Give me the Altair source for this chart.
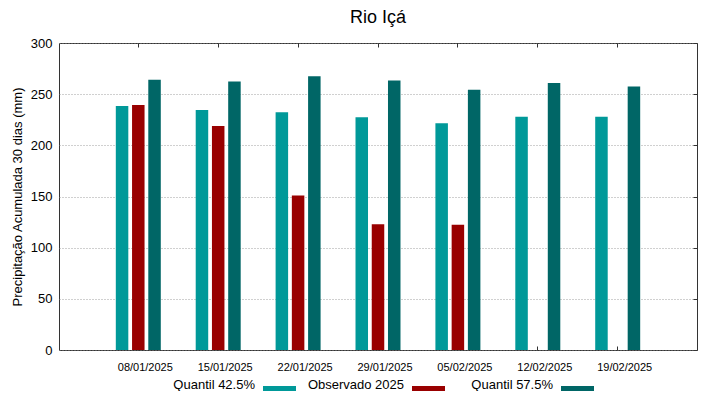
import altair as alt
import pandas as pd

dates = ["08/01/2025", "15/01/2025", "22/01/2025", "29/01/2025",
         "05/02/2025", "12/02/2025", "19/02/2025"]
series = ["Quantil 42.5%", "Observado 2025", "Quantil 57.5%"]
colors = ["#009999", "#990000", "#006666"]
q425 = [238.5, 234.6, 232.4, 227.4, 221.6, 228.0, 228.0]
obs = [239.5, 218.9, 151.0, 122.8, 122.5, None, None]
q575 = [264.0, 262.4, 267.6, 263.3, 254.2, 261.0, 257.5]

rows = []
for name, vals in zip(series, [q425, obs, q575]):
    for d, v in zip(dates, vals):
        if v is not None:
            rows.append({"date": d, "series": name, "value": v})
df = pd.DataFrame(rows)

FONT = "Liberation Sans"

xscale = alt.Scale(domain=dates, paddingInner=0.437, paddingOuter=0.711)
oscale = alt.Scale(domain=series, paddingInner=0.23, paddingOuter=0)
yscale = alt.Scale(domain=[0, 300], nice=False)

bars = alt.Chart(df).mark_bar(stroke=None).encode(
    x=alt.X("date:N", sort=dates, scale=xscale, title=None,
            axis=alt.Axis(orient="bottom", offset=-4, domain=False, tickSize=4,
                          tickColor="#333", labelAngle=0, labelFontSize=11,
                          labelPadding=11, labelOffset=7, labelColor="#000",
                          labelFont=FONT)),
    xOffset=alt.XOffset("series:N", sort=series, scale=oscale),
    y=alt.Y("value:Q", scale=yscale,
            title="Precipitação Acumulada 30 dias (mm)",
            axis=alt.Axis(orient="left", values=[0, 50, 100, 150, 200, 250, 300],
                          domain=False, ticks=False, labelPadding=7,
                          labelFontSize=13, labelColor="#000", labelFont=FONT,
                          grid=True, gridDash=[1, 2], gridColor="#888",
                          gridWidth=0.8, titleFontSize=13, titleFont=FONT,
                          titleFontWeight="normal", titleColor="#000",
                          titlePadding=6)),
    color=alt.Color("series:N", sort=series,
                    scale=alt.Scale(domain=series, range=colors),
                    legend=alt.Legend(
                        title=None, orient="none", direction="horizontal",
                        legendX=204, legendY=36 + 307 - 14,
                        columns=3, gridAlign="all", columnPadding=11,
                        symbolType="M-1,-0.16H1V0.16H-1Z", symbolSize=1089,
                        symbolStrokeWidth=0, labelAlign="right",
                        labelBaseline="alphabetic",
                        labelOffset={"expr": "-41"}, labelFontSize=13, labelFont=FONT,
                        labelColor="#000", labelLimit=200,
                        labelExpr="datum.label == 'Observado 2025' ? datum.label : '\u00a0\u00a0\u00a0\u00a0' + datum.label")),
)

mirror = alt.Chart(df).mark_bar(opacity=0).encode(
    x=alt.X("date:N", sort=dates, scale=xscale, title=None,
            axis=alt.Axis(orient="top", offset=-4, domain=False, tickSize=4,
                          tickColor="#333", labels=False, grid=False)),
    xOffset=alt.XOffset("series:N", sort=series, scale=oscale),
    y=alt.Y("value:Q", scale=yscale, title=None,
            axis=alt.Axis(orient="right", offset=-4, domain=False, tickSize=4,
                          tickColor="#333", labels=False, grid=False,
                          values=[0, 50, 100, 150, 200, 250, 300])),
)

chart = alt.layer(bars, mirror).resolve_axis(
    x="independent", y="independent"
).properties(
    width=638, height=307,
    title=alt.Title("Rio Içá", fontSize=18, font=FONT, fontWeight="normal",
                    color="#000", anchor="middle", baseline="alphabetic",
                    offset=8, dy=12, frame="group"),
    padding={"left": 51, "top": 35, "right": 14, "bottom": 41},
    autosize=alt.AutoSizeParams(type="none"),
).configure_view(stroke="#333", strokeWidth=1)

chart.save("out.html", embed_options={"renderer": "svg", "actions": False})
